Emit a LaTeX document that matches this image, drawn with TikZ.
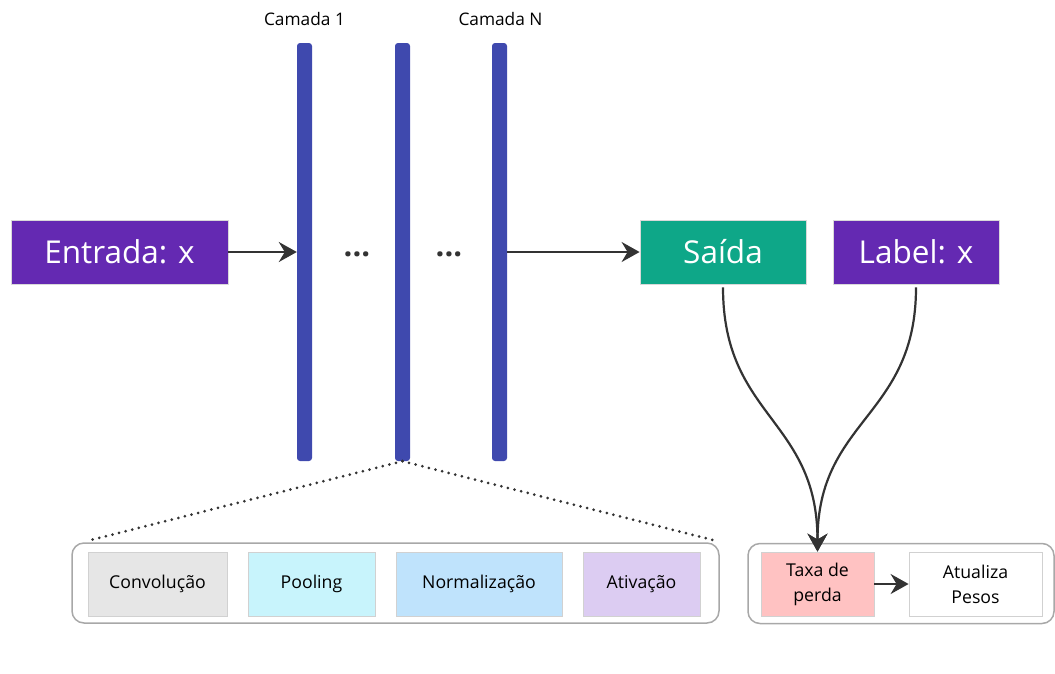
\documentclass[tikz,border=0pt]{standalone}
\usepackage{fontspec}
\setmainfont{Open Sans}
\usetikzlibrary{arrows.meta}
\definecolor{roxo}{HTML}{6429B2}
\definecolor{azulc}{HTML}{3F49AE}
\definecolor{verde}{HTML}{0EA788}
\definecolor{escuro}{HTML}{333333}
\definecolor{cinza}{HTML}{E6E6E6}
\definecolor{ciano}{HTML}{C8F4FC}
\definecolor{azulb}{HTML}{BFE3FC}
\definecolor{lilas}{HTML}{DCCCF2}
\definecolor{rosa}{HTML}{FFC2C2}
\definecolor{borda}{HTML}{A8A8A8}
\tikzset{
    grande/.style={fill=#1,draw=black!15,line width=0.8pt,inner sep=0pt,minimum width=166pt,minimum height=64pt,text=white,font=\fontsize{31.5}{36}\selectfont},
    camada/.style={azulc,fill,rounded corners=3pt,inner sep=0pt,minimum width=15pt,minimum height=418pt},
    bloco/.style={fill=#1,draw=black!18,line width=0.8pt,inner sep=0pt,minimum height=64pt,align=center,font=\fontsize{17.7}{25}\selectfont},
    grupo/.style={draw=borda,line width=1.5pt,rounded corners=12pt,inner sep=0pt,minimum height=80pt},
    seta/.style={escuro,line width=2.2pt,-{Stealth[length=18pt,width=20pt,inset=6pt]}},
    pontos/.style={escuro,line width=3pt,line cap=round,dash pattern=on 0pt off 6.8pt}
}
\begin{document}
\begin{tikzpicture}[x=1pt,y=-1pt]
    \useasboundingbox (0,0) rectangle (1055,673);
    % camadas
    \foreach \i/\x in {1/304.5,2/402.5,3/499.5} {
        \node [camada] (c\i) at (\x,252) {};
    }
    \node [font=\fontsize{17.3}{20}\selectfont] (t1) at (304.5,19) {Camada 1};
    \node [font=\fontsize{17.3}{20}\selectfont] (tn) at (500.5,19) {Camada N};
    \node [escuro,anchor=base,font=\fontsize{31}{34}\selectfont\bfseries] (p1) at (357,256) {...};
    \node [escuro,anchor=base,font=\fontsize{31}{34}\selectfont\bfseries] (p2) at (449,256) {...};
    % entrada e saida
    \node [grande=roxo,minimum width=217pt] (entrada) at (119.5,252) {Entrada: x};
    \node [grande=verde] (saida) at (723,252) {Saída};
    \node [grande=roxo] (label) at (916,252) {Label: x};
    \draw [seta] (entrada) -- (c1);
    \draw [seta] (c3) -- (saida);
    % detalhe de uma camada
    \node [grupo,minimum width=647pt] (detalhe) at (395.5,583) {};
    \node [bloco=cinza,minimum width=139pt] (conv) at (157.5,584) {Convolução};
    \node [bloco=ciano,minimum width=127pt] (pool) at (311.5,584) {Pooling};
    \node [bloco=azulb,minimum width=166pt] (norm) at (479,584) {Normalização};
    \node [bloco=lilas,minimum width=117pt] (ativ) at (641.5,584) {Ativação};
    \coordinate (zl) at (87,541);
    \coordinate (zr) at (717,541);
    \draw [pontos] (c2.south) -- (zl);
    \draw [pontos] (c2.south) -- (zr);
    % perda
    \node [grupo,minimum width=306pt] (treino) at (901,583.5) {};
    \node [bloco=rosa,minimum width=113pt] (taxa) at (817.5,584) {Taxa de\\perda};
    \node [bloco=white,minimum width=133pt] (atualiza) at (975.5,584) {Atualiza\\Pesos};
    \draw [seta,shorten <=3pt] (saida.south) .. controls +(0,133) and +(0,-133) .. (taxa.north);
    \draw [seta,shorten <=3pt] (label.south) .. controls +(0,133) and +(0,-133) .. (taxa.north);
    \draw [seta] (taxa) -- (atualiza);
\end{tikzpicture}
\end{document}
